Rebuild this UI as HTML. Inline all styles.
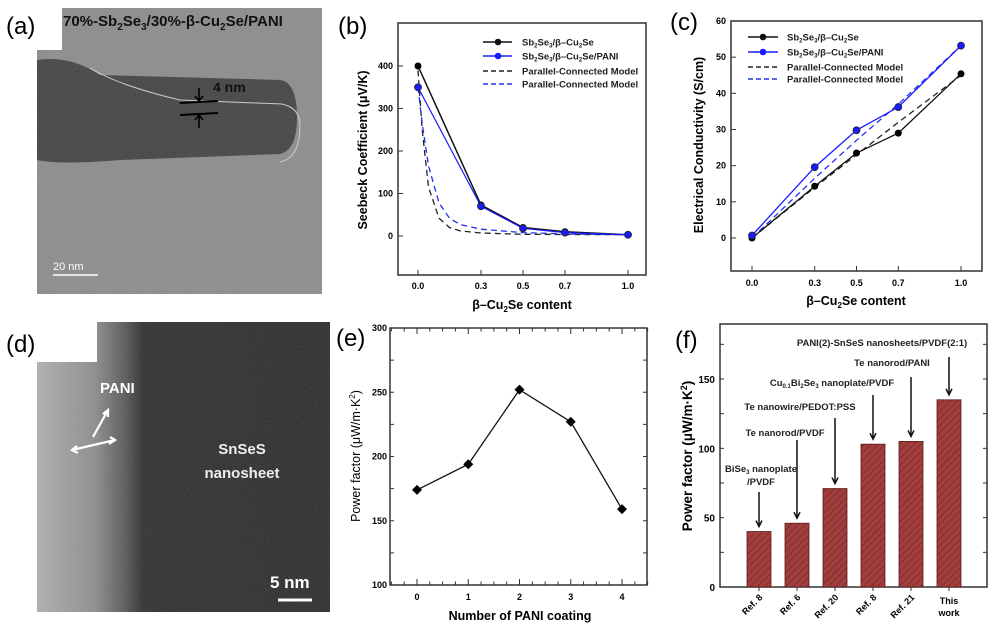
<!DOCTYPE html>
<html><head><meta charset="utf-8"><style>
body{margin:0;background:#fff}
svg{display:block;font-family:"Liberation Sans",Arial,sans-serif}
.tk{font-size:9px;font-weight:bold}
.al{font-size:12.5px;font-weight:bold}
.pl{font-size:24px}
.lg{font-size:9.5px;font-weight:bold}
</style></head><body>
<svg id="fig" width="999" height="626" viewBox="0 0 999 626">
<defs>
<filter id="noise" x="0" y="0" width="100%" height="100%"><feTurbulence type="fractalNoise" baseFrequency="0.9" numOctaves="2" seed="3"/><feColorMatrix type="matrix" values="0 0 0 0 0.5  0 0 0 0 0.5  0 0 0 0 0.5  0 0 0 0.25 0"/></filter>
<linearGradient id="dgrad" x1="0" x2="1" y1="0" y2="0"><stop offset="0" stop-color="#b0b0b0"/><stop offset="0.2" stop-color="#8a8a8a"/><stop offset="0.3" stop-color="#555"/><stop offset="0.36" stop-color="#2a2a2a"/><stop offset="1" stop-color="#262626"/></linearGradient>
<pattern id="hatch" width="5" height="5" patternUnits="userSpaceOnUse" patternTransform="rotate(45)"><rect width="5" height="5" fill="#a23d3d"/><line x1="0" y1="0" x2="0" y2="5" stroke="#6e2222" stroke-width="1.2"/></pattern>
</defs>

<!-- Panel a -->
<g>
<rect x="37" y="8" width="285" height="286" fill="#8a8a8a"/>
<path d="M37 60 Q70 55 100 75 L280 80 Q297 82 297 118 Q297 150 280 154 L120 160 Q60 165 37 160 Z" fill="#3e3e3e"/>
<path d="M90 68 Q120 86 180 100 L282 104 Q300 108 300 125 Q300 158 280 162" stroke="#cfcfcf" stroke-width="1" fill="none"/>
<rect x="37" y="8" width="285" height="286" filter="url(#noise)"/>
<rect x="0" y="0" width="62" height="50" fill="#fff"/>
<text x="6" y="34" class="pl">(a)</text>
<text x="63" y="26" style="font-size:15px;font-weight:bold" fill="#111">70%-Sb<tspan font-size="10" dy="4">2</tspan><tspan dy="-4">Se</tspan><tspan font-size="10" dy="4">3</tspan><tspan dy="-4">/30%-β-Cu</tspan><tspan font-size="10" dy="4">2</tspan><tspan dy="-4">Se/PANI</tspan></text>
<text x="213" y="92" style="font-size:14px;font-weight:bold" fill="#111">4 nm</text>
<line x1="180" y1="103" x2="218" y2="101" stroke="#000" stroke-width="2"/>
<line x1="180" y1="115" x2="218" y2="113" stroke="#000" stroke-width="2"/>
<path d="M199 88 L199 101 M195 96 L199 101 L203 96 M199 128 L199 115 M195 120 L199 115 L203 120" stroke="#000" stroke-width="1.6" fill="none"/>
<text x="53" y="270" style="font-size:11px" fill="#fff">20  nm</text>
<line x1="53" y1="275" x2="98" y2="275" stroke="#fff" stroke-width="1.5"/>
</g>

<!-- Panel d -->
<g>
<rect x="37" y="322" width="293" height="290" fill="url(#dgrad)"/>
<rect x="37" y="322" width="293" height="290" filter="url(#noise)"/>
<rect x="0" y="322" width="97" height="40" fill="#fff"/>
<text x="6" y="352" class="pl">(d)</text>
<text x="100" y="393" style="font-size:15px;font-weight:bold" fill="#fff">PANI</text>
<path d="M93 437 L108 410 M103 414 L108 410 L108 417 M72 450 L115 440 M77 446 L72 450 L78 453 M110 437 L115 440 L109 444" stroke="#fff" stroke-width="2.2" fill="none"/>
<text x="242" y="454" text-anchor="middle" style="font-size:15px;font-weight:bold" fill="#eee">SnSeS</text>
<text x="242" y="478" text-anchor="middle" style="font-size:15px;font-weight:bold" fill="#eee">nanosheet</text>
<text x="270" y="588" style="font-size:17px;font-weight:bold" fill="#fff">5 nm</text>
<line x1="278" y1="600" x2="312" y2="600" stroke="#fff" stroke-width="3"/>
</g>

<g id="gb"></g>
<g id="gc"></g>
<g id="ge"></g>
<g id="gf"></g>
</svg>
<script>
// Panel b data
const bX = [0.0, 0.3, 0.5, 0.7, 1.0];
const bBlack = [400, 73, 20, 10, 3];
const bBlue = [350, 70, 18, 8, 3];
const bModelX = [0, 0.02, 0.05, 0.1, 0.15, 0.2, 0.3, 0.5, 0.7, 1.0];
const bModelBlack = [390, 250, 115, 42, 20, 12, 7, 4, 3.5, 3];
const bModelBlue = [350, 265, 165, 78, 42, 27, 16, 8, 5, 3];
const bYTicks = [0, 100, 200, 300, 400];
const bXTicks = ["0.0", "0.3", "0.5", "0.7", "1.0"];
// Panel c data
const cX = [0.0, 0.3, 0.5, 0.7, 1.0];
const cBlack = [0, 14.3, 23.5, 29, 45.4];
const cBlue = [0.7, 19.6, 29.8, 36.2, 53.2];
const cModelBlack = [0, 14, 23, 32, 45];
const cModelBlue = [0, 16.5, 27, 37, 53.2];
const cYTicks = [0, 10, 20, 30, 40, 50, 60];
// Panel e data
const eX = [0, 1, 2, 3, 4];
const eVals = [174, 194, 252, 227, 159];
const eYTicks = [100, 150, 200, 250, 300];
// Panel f data
const fCats = ["Ref. 8", "Ref. 6", "Ref. 20", "Ref. 8", "Ref. 21", "This work"];
const fVals = [40, 46, 71, 103, 105, 135];
const fYTicks = [0, 50, 100, 150];

const NS = "http://www.w3.org/2000/svg";
function mk(parent, tag, attrs, txt) {
  const e = document.createElementNS(NS, tag);
  for (const k in attrs) e.setAttribute(k, attrs[k]);
  if (txt !== undefined) e.innerHTML = txt;
  parent.appendChild(e);
  return e;
}
function lin(d0, d1, r0, r1) { return v => r0 + (v - d0) * (r1 - r0) / (d1 - d0); }
function pathD(xs, ys, sx, sy) { return xs.map((x, i) => (i ? "L" : "M") + sx(x).toFixed(1) + " " + sy(ys[i]).toFixed(1)).join(" "); }

// ---------- Panel b ----------
(function () {
  const g = document.getElementById("gb");
  const L = 398, R = 646, T = 23, B = 275;
  const sx = lin(0, 1, 418, 628), sy = lin(0, 400, 236, 66);
  mk(g, "text", { x: 338, y: 34, class: "pl" }, "(b)");
  const frame = mk(g, "rect", { x: L, y: T, width: R - L, height: B - T, fill: "none", stroke: "#333", "stroke-width": 1.5 });
  
  
  bYTicks.forEach(v => {
    mk(g, "line", { x1: L, x2: L + 5, y1: sy(v), y2: sy(v), stroke: "#333" });
    const t = mk(g, "text", { x: L - 5, y: sy(v) + 3, "text-anchor": "end", class: "tk" }, v);
    
    
  });
  bX.forEach((v, i) => {
    mk(g, "line", { x1: sx(v), x2: sx(v), y1: B, y2: B - 5, stroke: "#333" });
    const t = mk(g, "text", { x: sx(v), y: 289, "text-anchor": "middle", class: "tk" }, bXTicks[i]);
    
    
  });
  const yl = mk(g, "text", { transform: "translate(367,150) rotate(-90)", "text-anchor": "middle", class: "al" }, "Seebeck Coefficient (μV/K)");
  
  
  const xl = mk(g, "text", { x: 522, y: 309, "text-anchor": "middle", class: "al" }, "β–Cu<tspan font-size='8' dy='3'>2</tspan><tspan dy='-3'>Se content</tspan>");
  
  
  const m1 = mk(g, "path", { d: pathD(bModelX, bModelBlack, sx, sy), fill: "none", stroke: "#222", "stroke-width": 1.3, "stroke-dasharray": "6 4" });
  
  
  const m2 = mk(g, "path", { d: pathD(bModelX, bModelBlue, sx, sy), fill: "none", stroke: "#2233ee", "stroke-width": 1.3, "stroke-dasharray": "6 4" });
  
  
  const l1 = mk(g, "path", { d: pathD(bX, bBlack, sx, sy), fill: "none", stroke: "#111", "stroke-width": 1.5 });
  
  
  const l2 = mk(g, "path", { d: pathD(bX, bBlue, sx, sy), fill: "none", stroke: "#1a1aff", "stroke-width": 1.2 });
  
  
  bX.forEach((x, i) => {
    const p = mk(g, "circle", { cx: sx(x), cy: sy(bBlack[i]), r: 3.5, fill: "#000" });
    
    
    const q = mk(g, "circle", { cx: sx(x), cy: sy(bBlue[i]), r: 3.5, fill: "#1a1aff", stroke: "#222", "stroke-width": 0.8 });
    
    
  });
  const lgY = [42, 56, 71, 84];
  const lgT = ["Sb<tspan font-size='6' dy='2'>2</tspan><tspan dy='-2'>Se</tspan><tspan font-size='6' dy='2'>3</tspan><tspan dy='-2'>/β–Cu</tspan><tspan font-size='6' dy='2'>2</tspan><tspan dy='-2'>Se</tspan>",
    "Sb<tspan font-size='6' dy='2'>2</tspan><tspan dy='-2'>Se</tspan><tspan font-size='6' dy='2'>3</tspan><tspan dy='-2'>/β–Cu</tspan><tspan font-size='6' dy='2'>2</tspan><tspan dy='-2'>Se/PANI</tspan>",
    "Parallel-Connected Model", "Parallel-Connected Model"];
  const lgC = ["#111", "#1a1aff", "#222", "#2233ee"];
  lgY.forEach((y, i) => {
    mk(g, "line", { x1: 483, x2: 512, y1: y, y2: y, stroke: lgC[i], "stroke-width": 1.4, "stroke-dasharray": i > 1 ? "5 3" : "none" });
    if (i < 2) mk(g, "circle", { cx: 498, cy: y, r: 3.3, fill: lgC[i] });
    const t = mk(g, "text", { x: 522, y: y + 3.5, class: "lg", fill: "#222" }, lgT[i]);
    
    
  });
})();

// ---------- Panel c ----------
(function () {
  const g = document.getElementById("gc");
  const L = 731, R = 982, T = 21, B = 271;
  const sx = lin(0, 1, 752, 961), sy = lin(0, 60, 238, 21);
  mk(g, "text", { x: 670, y: 30, class: "pl" }, "(c)");
  const frame = mk(g, "rect", { x: L, y: T, width: R - L, height: B - T, fill: "none", stroke: "#333", "stroke-width": 1.5 });
  
  
  cYTicks.forEach(v => {
    mk(g, "line", { x1: L, x2: L + 5, y1: sy(v), y2: sy(v), stroke: "#333" });
    const t = mk(g, "text", { x: L - 5, y: sy(v) + 3, "text-anchor": "end", class: "tk" }, v);
    
    
  });
  cX.forEach((v, i) => {
    mk(g, "line", { x1: sx(v), x2: sx(v), y1: B, y2: B - 5, stroke: "#333" });
    const t = mk(g, "text", { x: sx(v), y: 286, "text-anchor": "middle", class: "tk" }, bXTicks[i]);
    
    
  });
  const yl = mk(g, "text", { transform: "translate(703,145) rotate(-90)", "text-anchor": "middle", class: "al" }, "Electrical Conductivity (S/cm)");
  
  
  const xl = mk(g, "text", { x: 856, y: 305, "text-anchor": "middle", class: "al" }, "β–Cu<tspan font-size='8' dy='3'>2</tspan><tspan dy='-3'>Se content</tspan>");
  
  
  const m1 = mk(g, "path", { d: pathD(cX, cModelBlack, sx, sy), fill: "none", stroke: "#222", "stroke-width": 1.3, "stroke-dasharray": "6 4" });
  
  
  const m2 = mk(g, "path", { d: pathD(cX, cModelBlue, sx, sy), fill: "none", stroke: "#2233ee", "stroke-width": 1.3, "stroke-dasharray": "6 4" });
  
  
  const l1 = mk(g, "path", { d: pathD(cX, cBlack, sx, sy), fill: "none", stroke: "#111", "stroke-width": 1.3 });
  
  
  const l2 = mk(g, "path", { d: pathD(cX, cBlue, sx, sy), fill: "none", stroke: "#1a1aff", "stroke-width": 1.3 });
  
  
  cX.forEach((x, i) => {
    const p = mk(g, "circle", { cx: sx(x), cy: sy(cBlack[i]), r: 3.5, fill: "#000" });
    
    
    const q = mk(g, "circle", { cx: sx(x), cy: sy(cBlue[i]), r: 3.5, fill: "#1a1aff", stroke: "#222", "stroke-width": 0.8 });
    
    
  });
  const lgY = [37, 52, 67, 79];
  const lgT = ["Sb<tspan font-size='6' dy='2'>2</tspan><tspan dy='-2'>Se</tspan><tspan font-size='6' dy='2'>3</tspan><tspan dy='-2'>/β–Cu</tspan><tspan font-size='6' dy='2'>2</tspan><tspan dy='-2'>Se</tspan>",
    "Sb<tspan font-size='6' dy='2'>2</tspan><tspan dy='-2'>Se</tspan><tspan font-size='6' dy='2'>3</tspan><tspan dy='-2'>/β–Cu</tspan><tspan font-size='6' dy='2'>2</tspan><tspan dy='-2'>Se/PANI</tspan>",
    "Parallel-Connected Model", "Parallel-Connected Model"];
  const lgC = ["#111", "#1a1aff", "#222", "#2233ee"];
  lgY.forEach((y, i) => {
    mk(g, "line", { x1: 748, x2: 778, y1: y, y2: y, stroke: lgC[i], "stroke-width": 1.4, "stroke-dasharray": i > 1 ? "5 3" : "none" });
    if (i < 2) mk(g, "circle", { cx: 763, cy: y, r: 3.3, fill: lgC[i] });
    const t = mk(g, "text", { x: 787, y: y + 3.5, class: "lg", fill: "#222" }, lgT[i]);
    
    
  });
})();

// ---------- Panel e ----------
(function () {
  const g = document.getElementById("ge");
  const L = 390, R = 647, T = 328, B = 585;
  const sx = lin(0, 4, 417, 622), sy = lin(100, 300, 585, 328);
  mk(g, "text", { x: 336, y: 346, class: "pl" }, "(e)");
  const frame = mk(g, "rect", { x: L, y: T, width: R - L, height: B - T, fill: "none", stroke: "#333", "stroke-width": 1.5 });
  
  
  for (let v = 100; v <= 300; v += 25) {
    mk(g, "line", { x1: L, x2: L + 4, y1: sy(v), y2: sy(v), stroke: "#333" });
    mk(g, "line", { x1: R, x2: R - 4, y1: sy(v), y2: sy(v), stroke: "#333" });
  }
  for (let v = -0.5; v <= 4.5; v += 0.25) {
    const h = Number.isInteger(v) ? 6 : 3.5;
    mk(g, "line", { x1: sx(v), x2: sx(v), y1: B, y2: B - h, stroke: "#333" });
    mk(g, "line", { x1: sx(v), x2: sx(v), y1: T, y2: T + h, stroke: "#333" });
  }
  eYTicks.forEach(v => {
    const t = mk(g, "text", { x: L - 3, y: sy(v) + 3, "text-anchor": "end", class: "tk" }, v);
    
    
  });
  eX.forEach(v => {
    const t = mk(g, "text", { x: sx(v), y: 600, "text-anchor": "middle", class: "tk" }, v);
    
    
  });
  const yl = mk(g, "text", { transform: "translate(360,456) rotate(-90)", "text-anchor": "middle", class: "al", style: "font-weight:normal" }, "Power factor (μW/m·K<tspan font-size='8' dy='-5'>2</tspan><tspan dy='5'>)</tspan>");
  
  
  const xl = mk(g, "text", { x: 520, y: 620, "text-anchor": "middle", class: "al" }, "Number of PANI coating");
  
  
  const l = mk(g, "path", { d: pathD(eX, eVals, sx, sy), fill: "none", stroke: "#111", "stroke-width": 1.3 });
  
  
  eX.forEach((x, i) => {
    const cx = sx(x), cy = sy(eVals[i]);
    const p = mk(g, "path", { d: `M${cx} ${cy - 5} L${cx + 5} ${cy} L${cx} ${cy + 5} L${cx - 5} ${cy} Z`, fill: "#000" });
    
    
  });
})();

// ---------- Panel f ----------
(function () {
  const g = document.getElementById("gf");
  const L = 720, R = 987, T = 324, B = 587;
  const sy = lin(0, 150, 587, 379);
  const cx = i => 759 + i * 38;
  mk(g, "text", { x: 675, y: 348, class: "pl" }, "(f)");
  const frame = mk(g, "rect", { x: L, y: T, width: R - L, height: B - T, fill: "none", stroke: "#333", "stroke-width": 1.5 });
  
  
  for (let v = 0; v <= 175; v += 25) {
    mk(g, "line", { x1: L, x2: L + 4, y1: sy(v), y2: sy(v), stroke: "#333" });
    mk(g, "line", { x1: R, x2: R - 4, y1: sy(v), y2: sy(v), stroke: "#333" });
  }
  fYTicks.forEach(v => {
    const t = mk(g, "text", { x: L - 5, y: sy(v) + 4, "text-anchor": "end", class: "tk", style: "font-size:10px" }, v);
    
    
  });
  const yl = mk(g, "text", { transform: "translate(692,456) rotate(-90)", "text-anchor": "middle", class: "al", style: "font-size:13.5px" }, "Power factor (μW/m·K<tspan font-size='9' dy='-5'>2</tspan><tspan dy='5'>)</tspan>");
  
  
  fVals.forEach((v, i) => {
    const b = mk(g, "rect", { x: cx(i) - 12, y: sy(v), width: 24, height: B - sy(v), fill: "url(#hatch)", stroke: "#5a1a1a", "stroke-width": 0.8 });
    
    
    mk(g, "line", { x1: cx(i), x2: cx(i), y1: B, y2: B + 4, stroke: "#333" });
    const t = mk(g, "text", { x: cx(i) + 4, y: 598, "text-anchor": "end", class: "tk", transform: `rotate(-45 ${cx(i) + 4} 598)` }, fCats[i]);
    if (i === 5) { t.setAttribute("transform", ""); t.setAttribute("x", cx(i)); t.setAttribute("text-anchor", "middle"); t.setAttribute("y", 604); t.innerHTML = "This"; mk(g, "text", { x: cx(i), y: 616, "text-anchor": "middle", class: "tk" }, "work"); }
    
    
  });
  const arrowStart = [492, 440, 418, 395, 377, 357];
  fVals.forEach((v, i) => {
    const y2 = sy(v) - 5;
    const a = mk(g, "path", { d: `M${cx(i)} ${arrowStart[i]} L${cx(i)} ${y2} M${cx(i) - 3} ${y2 - 6} L${cx(i)} ${y2} L${cx(i) + 3} ${y2 - 6}`, stroke: "#111", "stroke-width": 1.5, fill: "none" });
    
    
  });
  const ann = [
    [761, 472, "BiSe<tspan font-size='6' dy='2'>3</tspan><tspan dy='-2'> nanoplate</tspan>"],
    [761, 485, "/PVDF"],
    [785, 436, "Te nanorod/PVDF"],
    [800, 410, "Te nanowire/PEDOT:PSS"],
    [832, 386, "Cu<tspan font-size='6' dy='2'>0.1</tspan><tspan dy='-2'>Bi</tspan><tspan font-size='6' dy='2'>2</tspan><tspan dy='-2'>Se</tspan><tspan font-size='6' dy='2'>3</tspan><tspan dy='-2'> nanoplate/PVDF</tspan>"],
    [892, 366, "Te nanorod/PANI"],
    [882, 346, "PANI(2)-SnSeS nanosheets/PVDF(2:1)"]
  ];
  ann.forEach(a => {
    const t = mk(g, "text", { x: a[0], y: a[1], "text-anchor": "middle", class: "lg", fill: "#222" }, a[2]);
    
    
  });
})();
</script>
</body></html>
